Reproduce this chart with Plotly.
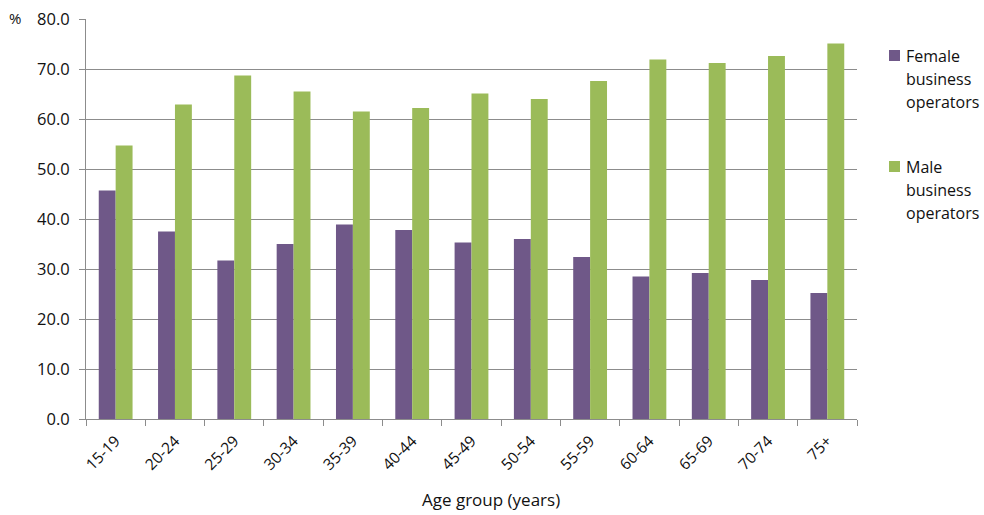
import plotly.graph_objects as go

# Share of business operators by sex, per age group (%)
age_groups = ["15-19", "20-24", "25-29", "30-34", "35-39", "40-44", "45-49",
              "50-54", "55-59", "60-64", "65-69", "70-74", "75+"]
female = [45.7, 37.5, 31.7, 35.0, 38.9, 37.8, 35.3, 36.0, 32.4, 28.5, 29.2, 27.8, 25.2]
male = [54.7, 62.9, 68.7, 65.5, 61.5, 62.2, 65.1, 64.0, 67.6, 71.9, 71.2, 72.6, 75.1]
series_names = ["Female business operators", "Male business operators"]
y_ticks = [0, 10, 20, 30, 40, 50, 60, 70, 80]

PURPLE = "#6F5888"
GREEN = "#9BBB59"
GRID = "#8C8C8C"
TEXT = "#111111"
FONT = "Open Sans"

W, H = 984, 515
L, R, T, B = 86, 127, 19, 96

fig = go.Figure()
fig.add_trace(go.Bar(x=age_groups, y=female, name=series_names[0],
                     marker=dict(color=PURPLE, line=dict(width=0))))
fig.add_trace(go.Bar(x=age_groups, y=male, name=series_names[1],
                     marker=dict(color=GREEN, line=dict(width=0))))

fig.update_layout(
    width=W, height=H,
    margin=dict(l=L, r=R, t=T, b=B, pad=0, autoexpand=False),
    paper_bgcolor="white", plot_bgcolor="white",
    barmode="group", bargap=0.43, bargroupgap=0,
    showlegend=False,
    font=dict(family=FONT, size=15, color=TEXT),
)

fig.update_xaxes(
    type="category",
    automargin=False,
    showgrid=False,
    showline=True, linecolor=GRID, linewidth=1,
    ticks="outside", tickson="boundaries", ticklen=6, tickcolor=GRID,
    tickangle=-45,
    ticklabelstandoff=6,
    tickfont=dict(family=FONT, size=15.5, color=TEXT),
)
fig.update_yaxes(
    range=[0, 80],
    automargin=False,
    tickvals=y_ticks, tickformat=".1f",
    showgrid=True, gridcolor=GRID, gridwidth=1,
    showline=True, linecolor=GRID, linewidth=1,
    ticks="outside", ticklen=6, tickcolor=GRID,
    ticklabelstandoff=6,
    zeroline=False,
    tickfont=dict(family=FONT, size=16.5, color=TEXT),
)

pw = W - L - R
ph = H - T - B


def px_x(x):
    return (x - L) / pw


def px_y(y):
    return 1 - (y - T) / ph


annotations = [
    dict(text="%", x=px_x(15), y=px_y(18), xref="paper", yref="paper",
         xanchor="center", yanchor="middle", showarrow=False,
         font=dict(family=FONT, size=15, color=TEXT)),
    dict(text="Age group (years)", x=px_x(491), y=px_y(500), xref="paper", yref="paper",
         xanchor="center", yanchor="middle", showarrow=False,
         font=dict(family=FONT, size=17, color=TEXT)),
]

# Legend: coloured square followed by the series name, one word per line
shapes = []
legend_rows = [(56, PURPLE, series_names[0]), (167, GREEN, series_names[1])]
for top_line, colour, name in legend_rows:
    shapes.append(dict(type="rect", xref="paper", yref="paper",
                       x0=px_x(889), x1=px_x(900),
                       y0=px_y(top_line - 6), y1=px_y(top_line + 5),
                       fillcolor=colour, line=dict(width=0)))
    for i, word in enumerate(name.split(" ")):
        annotations.append(dict(text=word, x=px_x(904), y=px_y(top_line + 23 * i),
                                xref="paper", yref="paper",
                                xanchor="left", yanchor="middle", showarrow=False,
                                font=dict(family=FONT, size=16, color=TEXT)))

fig.update_layout(annotations=annotations, shapes=shapes)

fig.write_html("out.html")
